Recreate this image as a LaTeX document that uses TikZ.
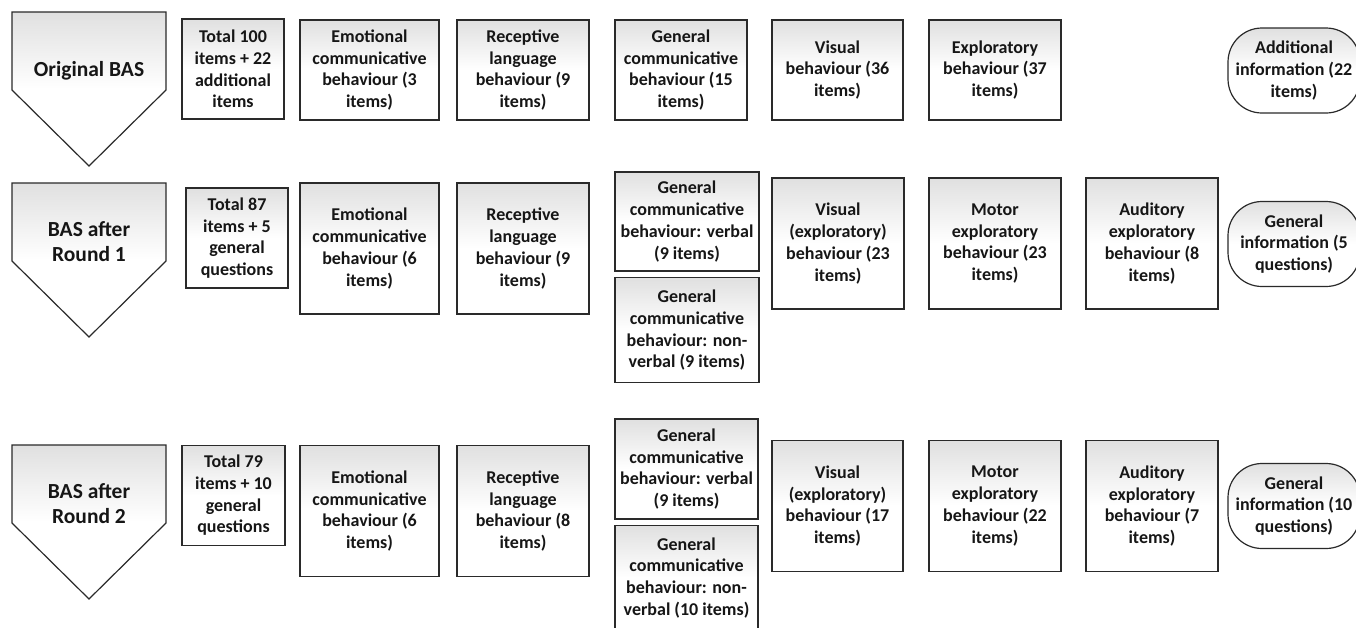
\documentclass[tikz,border=0pt]{standalone}
\usepackage{fontspec}
\setmainfont{Carlito}
\usepackage{tikz}
\usetikzlibrary{positioning}
\definecolor{Edge}{HTML}{2A2A2A}
\definecolor{Ink}{HTML}{161616}
\definecolor{Fade}{HTML}{E0E0E0}

\begin{document}
\begin{tikzpicture}[x=1pt,y=-1pt,
  font=\bfseries\fontsize{18}{21.7}\selectfont,every node/.style={align=center,text=Ink},
  shaded/.style={draw=Edge,line width=1.2pt,top color=Fade,bottom color=white,middle color=white},
  card/.style={shaded,inner sep=1pt,minimum width=132pt,minimum height=131pt},
  low/.style={minimum height=100pt},
  slimcard/.style={card,low,minimum width=102pt},
  widecard/.style={card,minimum width=139pt},
  gencard/.style={card,low,minimum width=144pt},
  infobox/.style={shaded,rounded corners=34pt,inner sep=1pt,minimum width=132pt,minimum height=85pt},
  headtext/.style={font=\bfseries\fontsize{21.5}{25}\selectfont}]
  \clip (0,0) rectangle (1356,627);

  % version arrows on the left
  \foreach \top/\txt [count=\i] in {12/{Original BAS},183/{BAS after\\Round 1},445/{BAS after\\Round 2}}{
    \draw[shaded,line join=miter] (12,\top) -- ++(154,0) -- ++(0,78) -- ++(-77,76) -- ++(-77,-76) -- cycle;
    \node[headtext] (bas\i) at (89,\top+59) {\txt};
  }

  % original BAS
  \node[slimcard] (total1) at (233,69) {Total 100\\items + 22\\additional\\items};
  \node[widecard,low] (emo1) at (369.5,70) {Emotional\\communicative\\behaviour (3\\items)};
  \node[card,low] (rec1) at (523,70) {Receptive\\language\\behaviour (9\\items)};
  \node[card,low] (gen1) at (681,70) {General\\communicative\\behaviour (15\\items)};
  \node[card,low,minimum width=131pt] (vis1) at (837.5,70) {Visual\\behaviour (36\\items)};
  \node[card,low] (expl1) at (995,70) {Exploratory\\behaviour (37\\items)};
  \node[infobox] (info1) at (1294,70.5) {Additional\\information (22\\items)};

  % after round 1
  \node[slimcard] (total2) at (237,238) {Total 87\\items + 5\\general\\questions};
  \node[widecard] (emo2) at (369.5,248.5) {Emotional\\communicative\\behaviour (6\\items)};
  \node[card] (rec2) at (523,248.5) {Receptive\\language\\behaviour (9\\items)};
  \node[gencard,minimum height=99pt] (verb2) at (687,221.5) {General\\communicative\\behaviour: verbal\\(9 items)};
  \node[gencard,minimum height=105pt,below=5.5pt of verb2] (nonv2) {General\\communicative\\behaviour: non-\\verbal (9 items)};
  \node[card] (vis2) at (838,243.5) {Visual\\(exploratory)\\behaviour (23\\items)};
  \node[card] (mot2) at (995,243.5) {Motor\\exploratory\\behaviour (23\\items)};
  \node[card] (aud2) at (1152,243.5) {Auditory\\exploratory\\behaviour (8\\items)};
  \node[infobox] (info2) at (1294,244) {General\\information (5\\questions)};

  % after round 2
  \node[slimcard,minimum width=103pt] (total3) at (233.5,495.5) {Total 79\\items + 10\\general\\questions};
  \node[widecard] (emo3) at (369.5,511) {Emotional\\communicative\\behaviour (6\\items)};
  \node[card] (rec3) at (523,511) {Receptive\\language\\behaviour (8\\items)};
  \node[gencard,minimum width=143pt] (verb3) at (686.5,469) {General\\communicative\\behaviour: verbal\\(9 items)};
  \node[gencard,minimum width=143pt,minimum height=105pt,below=5pt of verb3] (nonv3) {General\\communicative\\behaviour: non-\\verbal (10 items)};
  \node[card,minimum width=131pt] (vis3) at (837.5,506) {Visual\\(exploratory)\\behaviour (17\\items)};
  \node[card] (mot3) at (995,506) {Motor\\exploratory\\behaviour (22\\items)};
  \node[card] (aud3) at (1152,506) {Auditory\\exploratory\\behaviour (7\\items)};
  \node[infobox] (info3) at (1294,506) {General\\information (10\\questions)};
\end{tikzpicture}
\end{document}
